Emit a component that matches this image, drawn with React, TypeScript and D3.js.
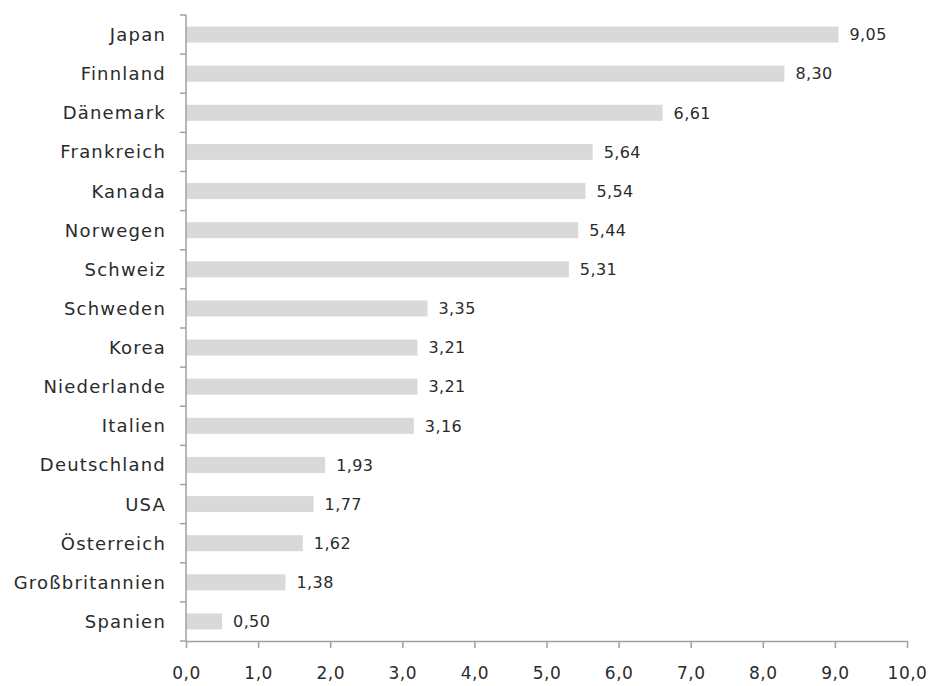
import React, { useEffect, useRef } from "react";
import * as d3 from "d3";

const countries = [
  "Japan",
  "Finnland",
  "Dänemark",
  "Frankreich",
  "Kanada",
  "Norwegen",
  "Schweiz",
  "Schweden",
  "Korea",
  "Niederlande",
  "Italien",
  "Deutschland",
  "USA",
  "Österreich",
  "Großbritannien",
  "Spanien",
];
const values = [9.05, 8.3, 6.61, 5.64, 5.54, 5.44, 5.31, 3.35, 3.21, 3.21, 3.16, 1.93, 1.77, 1.62, 1.38, 0.5];
const xTicks = [0, 1, 2, 3, 4, 5, 6, 7, 8, 9, 10];

const fmt = (v: number, digits: number) => v.toFixed(digits).replace(".", ",");

const App: React.FC = () => {
  const svgRef = useRef<SVGSVGElement>(null);

  useEffect(() => {
    if (!svgRef.current) return;
    const svg = d3.select(svgRef.current);
    svg.selectAll("*").remove();

    const width = 929;
    const height = 686;
    const margin = { top: 15, right: 22, bottom: 45, left: 186 };
    const font = "'DejaVu Sans', sans-serif";
    const axisColor = "#a0a0a0";
    const textColor = "#2b2b2b";

    const x = d3.scaleLinear().domain([0, 10]).range([margin.left, width - margin.right]);
    const y = d3
      .scaleBand()
      .domain(countries)
      .range([margin.top, height - margin.bottom])
      .paddingInner(0.59)
      .paddingOuter(0.295);
    const band = d3
      .scaleBand()
      .domain(countries)
      .range([margin.top, height - margin.bottom]);

    const data = countries.map((c, i) => ({ c, v: values[i] }));

    // Bars
    svg
      .append("g")
      .selectAll("rect")
      .data(data)
      .enter()
      .append("rect")
      .attr("x", x(0))
      .attr("y", (d) => y(d.c) || 0)
      .attr("width", (d) => x(d.v) - x(0))
      .attr("height", y.bandwidth())
      .attr("fill", "#d9d9d9");

    // Value labels
    svg
      .append("g")
      .selectAll("text")
      .data(data)
      .enter()
      .append("text")
      .attr("x", (d) => x(d.v) + 11)
      .attr("y", (d) => (y(d.c) || 0) + y.bandwidth() / 2)
      .attr("dy", "0.36em")
      .attr("font-family", font)
      .attr("font-size", "16px")
      .attr("letter-spacing", "0.4px")
      .attr("fill", textColor)
      .text((d) => fmt(d.v, 2));

    // Y axis
    const yAxis = svg.append("g");
    yAxis
      .append("line")
      .attr("x1", x(0))
      .attr("x2", x(0))
      .attr("y1", margin.top)
      .attr("y2", height - margin.bottom)
      .attr("stroke", axisColor)
      .attr("stroke-width", 1.5);
    const boundaries = countries.map((c) => band(c) || 0).concat([height - margin.bottom]);
    yAxis
      .selectAll(".ytick")
      .data(boundaries)
      .enter()
      .append("line")
      .attr("x1", x(0) - 6)
      .attr("x2", x(0))
      .attr("y1", (d) => d)
      .attr("y2", (d) => d)
      .attr("stroke", axisColor)
      .attr("stroke-width", 1.5);
    yAxis
      .selectAll("text")
      .data(countries)
      .enter()
      .append("text")
      .attr("x", x(0) - 20)
      .attr("y", (d) => (band(d) || 0) + band.bandwidth() / 2)
      .attr("dy", "0.36em")
      .attr("text-anchor", "end")
      .attr("font-family", font)
      .attr("font-size", "18px")
      .attr("letter-spacing", "1.2px")
      .attr("fill", textColor)
      .text((d) => d);

    // X axis
    const xAxis = d3
      .axisBottom(x)
      .tickValues(xTicks)
      .tickSize(7)
      .tickPadding(19)
      .tickSizeOuter(0)
      .tickFormat((d) => fmt(d as number, 1));
    svg
      .append("g")
      .attr("transform", `translate(0,${height - margin.bottom})`)
      .call(xAxis)
      .call((g) => g.select(".domain").attr("stroke", axisColor).attr("stroke-width", 1.5))
      .call((g) => g.selectAll(".tick line").attr("stroke", axisColor).attr("stroke-width", 1.5))
      .call((g) =>
        g
          .selectAll("text")
          .attr("fill", textColor)
          .attr("font-family", font)
          .attr("font-size", "17px")
          .attr("letter-spacing", "0.5px")
      );
  }, []);

  return (
    <svg
      ref={svgRef}
      width={929}
      height={686}
      style={{ position: "absolute", left: 0, top: 0, background: "#fff" }}
    />
  );
};

export default App;
